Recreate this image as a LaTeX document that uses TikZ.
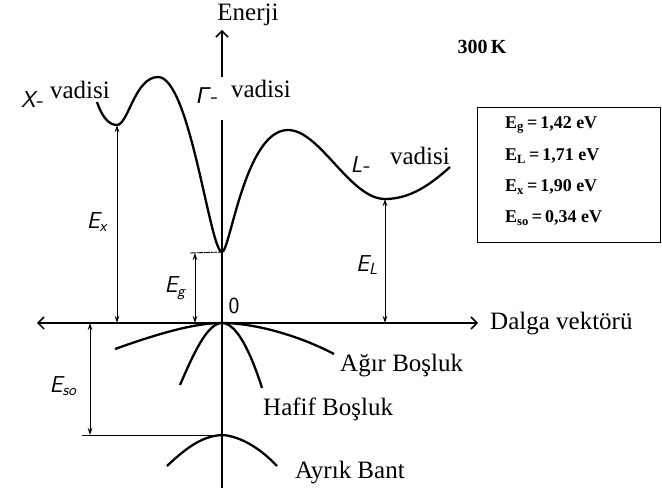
\documentclass[tikz,border=0pt]{standalone}
\usepackage{fontspec}
\setmainfont{Liberation Serif}
\newfontfamily\gsans{Liberation Sans}
\usetikzlibrary{arrows.meta}
\begin{document}
\begin{tikzpicture}[x=1pt,y=-1pt,
  lbl/.style={font=\fontsize{25}{28}\selectfont, inner sep=0pt},
  sym/.style={font=\fontsize{23}{25}\sffamily\slshape\selectfont, inner sep=0pt},
  boxtxt/.style={font=\fontsize{18}{20}\bfseries\selectfont, inner sep=0pt, anchor=west},
  axis/.style={line width=1.5pt, -{Straight Barb[length=6pt,width=12pt,line width=1.5pt]}},
  band/.style={line width=2.3pt},
  dim/.style={line width=0.8pt, {Stealth[length=7pt,width=4.5pt]}-{Stealth[length=7pt,width=4.5pt]}},
  thinl/.style={line width=0.9pt}]
\useasboundingbox (0,0) rectangle (662,494);
% key coordinates
\coordinate (O) at (222,323);
\coordinate (axL) at (37,323);
\coordinate (axR) at (478,323);
\coordinate (vtop) at (222,30);
\coordinate (vtopS) at (222,77);
\coordinate (vmid) at (222,120);
\coordinate (vbot) at (222,488);
\coordinate (Xs) at (97,102);
\coordinate (Xmin) at (117,125);
\coordinate (P1) at (158,77);
\coordinate (Gmin) at (222,252);
\coordinate (P2) at (288,130);
\coordinate (Lmin) at (385,199);
\coordinate (Le) at (450,167);
\coordinate (Xax) at (117,323);
\coordinate (Lax) at (385,323);
\coordinate (EgT) at (195,253);
\coordinate (EgB) at (195,323);
\coordinate (EgL) at (190,253);
\coordinate (EsoT) at (90,323);
\coordinate (EsoB) at (90,435);
\coordinate (SOl) at (82,435);
\coordinate (SO) at (222,435);
% axes
\draw[axis] (O) -- (axR);
\draw[axis] (O) -- (axL);
\draw[axis] (vtopS) -- (vtop);
\draw[line width=1.5pt] (vmid) -- (vbot);
% conduction band
\draw[band] (Xs) .. controls (102,117) and (109,125) .. (Xmin)
  .. controls (128,125) and (135,77) .. (P1)
  .. controls (190,77) and (210,252) .. (Gmin)
  .. controls (230,252) and (245,130) .. (P2)
  .. controls (320,130) and (350,199) .. (Lmin)
  .. controls (410,199) and (430,185) .. (Le);
% valence bands
\draw[band] (115,349) .. controls (160,333) and (195,323) .. (O)
  .. controls (255,323) and (300,336) .. (334,354);
\draw[band] (180,385) .. controls (195,350) and (208,323) .. (O)
  .. controls (236,323) and (250,350) .. (262,388);
\draw[band] (167,466) .. controls (190,444) and (205,436) .. (SO)
  .. controls (240,436) and (260,448) .. (277,466);
% dimension lines
\draw[dim] (Xmin) -- (Xax);
\draw[dim] (Lmin) -- (Lax);
\draw[dim] (EgT) -- (EgB);
\draw[dim] (EsoT) -- (EsoB);
\draw[thinl, dash pattern=on 6pt off 1pt] (EgL) -- (Gmin);
\draw[thinl] (SOl) -- (SO);
% labels
\node[lbl] (en) at (248,15) {Enerji};
\node[lbl, anchor=west] (dv) at (490,324) {Dalga vektörü};
\node[lbl, anchor=west] (ab) at (340,366) {Ağır Boşluk};
\node[lbl, anchor=west] (hb) at (263,409) {Hafif Boşluk};
\node[lbl, anchor=west] (ay) at (295,473) {Ayrık Bant};
\node[lbl] (xv) at (80,90) {vadisi};
\node[lbl] (gv) at (261,89) {vadisi};
\node[lbl] (lv) at (420,156) {vadisi};
\node[sym] (xl) at (32,100) {X-};
\node[sym] (gl) at (207,96) {{\gsans\itshape Γ}-};
\node[sym] (ll) at (360,165) {L-};
\node[sym] (ex) at (97,222) {E\textsubscript{x}};
\node[sym] (eg) at (175,288) {E\textsubscript{g}};
\node[sym] (el) at (367,265) {E\textsubscript{L}};
\node[sym] (es) at (63,386) {E\textsubscript{so}};
\node[font=\fontsize{23}{25}\sffamily\selectfont, inner sep=0pt] (zero) at (234,306) {0};
\node[font=\fontsize{20}{22}\bfseries\selectfont, inner sep=0pt] (T) at (482,47) {300\,K};
% box
\node[draw, line width=1.2pt, minimum width=183pt, minimum height=135pt, anchor=north west, inner sep=0pt] (box) at (477,107) {};
\node[boxtxt] (b1) at (505,125) {E\textsubscript{g}\,=\,1,42 eV};
\node[boxtxt] (b2) at (505,156) {E\textsubscript{L}\,=\,1,71 eV};
\node[boxtxt] (b3) at (505,187) {E\textsubscript{x}\,=\,1,90 eV};
\node[boxtxt] (b4) at (505,218) {E\textsubscript{so}\,=\,0,34 eV};
\end{tikzpicture}
\end{document}
